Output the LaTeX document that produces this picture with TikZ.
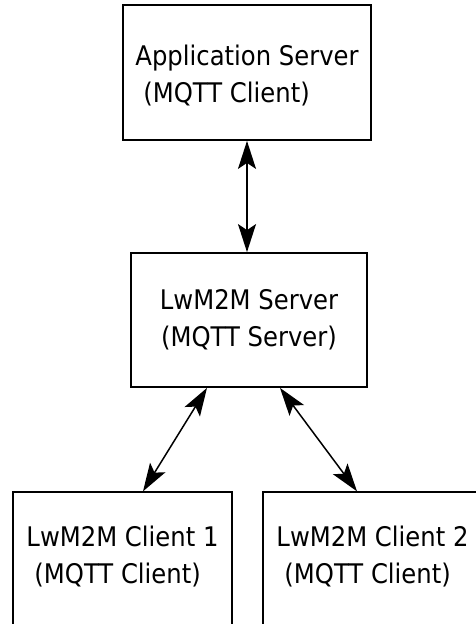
\documentclass[tikz,border=0pt]{standalone}
\usepackage{fontspec}
\setmainfont{DejaVu Sans}[FakeStretch=0.9]
\usetikzlibrary{arrows.meta}
\begin{document}
\begin{tikzpicture}[x=1pt,y=-1pt,
  box/.style={draw,rectangle,line width=1.8pt,inner sep=0pt,font=\fontsize{27}{37}\selectfont},
  link/.style={line width=1.5pt,{Stealth[length=28pt,width=18pt,inset=6pt]}-{Stealth[length=28pt,width=18pt,inset=6pt]}}]
\useasboundingbox (0,0) rectangle (475,624);
\node[box,align=left,text height=64.5pt,minimum width=248pt,minimum height=135pt] (app) at (247,72.5) {Application Server\\\hspace*{8pt}(MQTT Client)};
\node[box,align=center,minimum width=236pt,minimum height=134pt] (lwserver) at (249,320) {LwM2M Server\\(MQTT Server)};
\node[box,line width=1.3pt,align=left,text depth=8pt,minimum width=219pt,minimum height=134pt] (client1) at (122.5,559) {LwM2M Client 1\\\hspace*{8pt}(MQTT Client)};
\node[box,line width=1.3pt,align=left,text depth=8pt,minimum width=219pt,minimum height=134pt] (client2) at (372.5,559) {LwM2M Client 2\\\hspace*{8pt}(MQTT Client)};
\draw[link] (app.south) -- (app.south |- lwserver.north);
\draw[link] ([xshift=-42pt]lwserver.south) -- ([xshift=20.5pt]client1.north);
\draw[link] ([xshift=31pt]lwserver.south) -- ([xshift=-15.5pt]client2.north);
\end{tikzpicture}
\end{document}
